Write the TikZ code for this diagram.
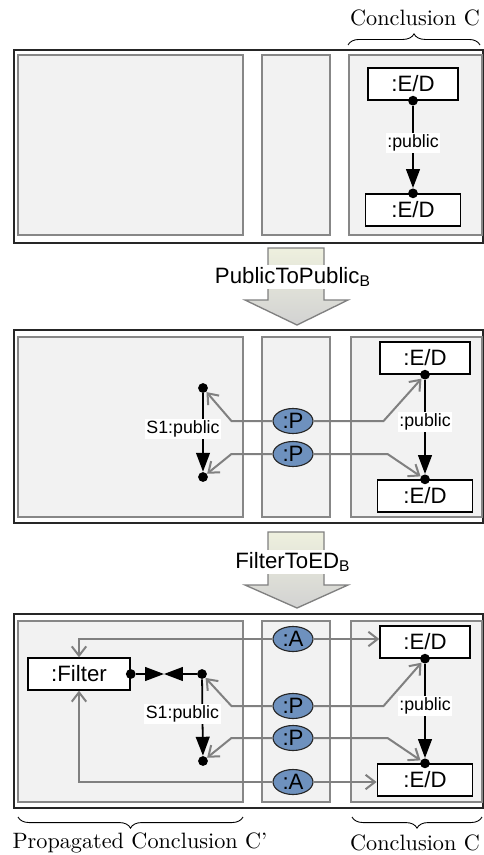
\documentclass[tikz,border=0pt]{standalone}
\usepackage{fontspec}
\newfontfamily\diagfont{Liberation Sans}
\usepackage{tikz}
\usetikzlibrary{arrows.meta,shapes.geometric,decorations.pathreplacing}
\definecolor{panegray}{RGB}{242,242,242}
\definecolor{paneline}{RGB}{135,135,135}
\definecolor{mapblue}{RGB}{110,145,190}
\definecolor{mapgray}{RGB}{128,128,128}
\definecolor{ruletop}{RGB}{238,240,222}
\definecolor{rulebot}{RGB}{210,210,210}

\begin{document}
\begin{tikzpicture}[x=0.45pt,y=-0.45pt,
  gtpanel/.style={draw=black!85,line width=0.6pt,fill=white},
  gtpane/.style={draw=paneline,line width=0.7pt,fill=panegray},
  gtobj/.style={draw,fill=white,line width=0.6pt,font=\diagfont,minimum width=40.5pt,
    minimum height=14.4pt,inner sep=0pt},
  gtmap/.style={ellipse,draw=black!85,fill=mapblue,line width=0.5pt,font=\diagfont,
    minimum width=18pt,minimum height=11.25pt,inner sep=0pt},
  gtdot/.style={circle,fill,inner sep=0pt,minimum size=4.4pt},
  gtedge/.style={-{Triangle[length=8.5pt,width=6.2pt]},line width=0.8pt},
  gtlabel/.style={fill=white,font=\diagfont\footnotesize,inner sep=0.8pt},
  gtmaparr/.style={-{Straight Barb[length=4.2pt,width=6.5pt]},mapgray,line width=0.9pt},
  gtrule/.style={draw=mapgray,line width=0.6pt,top color=ruletop,bottom color=rulebot},
  gtrulename/.style={fill=white,font=\diagfont,inner sep=1pt},
  gtbrace/.style={decorate,decoration={brace,amplitude=5pt},line width=0.4pt}
]
  \useasboundingbox (0,0) rectangle (484,855);
  % Panel 1: conclusion only
  \draw[gtpanel] (14,50) rectangle (483,243);
  \draw[gtpane] (18,55) rectangle (243,235);
  \draw[gtpane] (262,55) rectangle (330,235);
  \draw[gtpane] (349,55) rectangle (482,235);
  \node[gtobj] (ed1a) at (413,84) {:E/D};
  \node[gtobj,minimum width=43pt] (ed1b) at (413,210) {:E/D};
  \node[gtdot] (d1a) at (ed1a.south) {};
  \node[gtdot] (d1b) at (ed1b.north) {};
  \draw[gtedge] (d1a) -- (d1b) node[pos=0.45,gtlabel] {:public};
  \draw[gtbrace] (348,45) -- (480,45);
  \node (conc1) at (415,18) {Conclusion C};
  % Rule 1
  \path[gtrule] (268,248) -- (324,248) -- (324,300) -- (348,300) -- (297,325)
    -- (245,300) -- (268,300) -- cycle;
  \node[gtrulename] (r1) at (293,277) {PublicToPublic\textsubscript{B}};
  % Panel 2: after PublicToPublic
  \draw[gtpanel] (14,330) rectangle (483,523);
  \draw[gtpane] (18,337) rectangle (243,517);
  \draw[gtpane] (262,337) rectangle (330,517);
  \draw[gtpane] (351,337) rectangle (482,517);
  \node[gtobj] (ed2a) at (425,358) {:E/D};
  \node[gtobj,minimum width=43pt] (ed2b) at (425,496) {:E/D};
  \node[gtdot] (d2a) at (ed2a.south) {};
  \node[gtdot] (d2b) at (ed2b.north) {};
  \draw[gtedge] (d2a) -- (d2b) node[pos=0.45,gtlabel] {:public};
  \node[gtdot] (s2a) at (203,388) {};
  \node[gtdot] (s2b) at (203,477) {};
  \draw[gtedge] (s2a) -- (s2b) node[pos=0.45,gtlabel,xshift=-9pt] {S1:public};
  \node[gtmap] (p2a) at (293,421) {:P};
  \node[gtmap] (p2b) at (293,454) {:P};
  \draw[gtmaparr] (p2a.west) -- ++(-41,0) -- (s2a);
  \draw[gtmaparr] (p2a.east) -- ++(70,0) -- (d2a);
  \draw[gtmaparr] (p2b.west) -- ++(-41,0) -- (s2b);
  \draw[gtmaparr] (p2b.east) -- ++(74,0) -- (d2b);
  % Rule 2
  \path[gtrule] (268,532) -- (324,532) -- (324,585) -- (348,585) -- (297,608)
    -- (245,585) -- (268,585) -- cycle;
  \node[gtrulename] (r2) at (293,562) {FilterToED\textsubscript{B}};
  % Panel 3: after FilterToED
  \draw[gtpanel] (14,614) rectangle (483,808);
  \draw[gtpane] (18,621) rectangle (243,802);
  \draw[gtpane] (262,621) rectangle (330,802);
  \draw[gtpane] (351,621) rectangle (482,802);
  \node[gtobj] (ed3a) at (425,642) {:E/D};
  \node[gtobj,minimum width=43pt] (ed3b) at (425,780) {:E/D};
  \node[gtobj,minimum width=46pt] (filter) at (79,674) {:Filter};
  \node[gtdot] (d3a) at (ed3a.south) {};
  \node[gtdot] (d3b) at (ed3b.north) {};
  \draw[gtedge] (d3a) -- (d3b) node[pos=0.45,gtlabel] {:public};
  \node[gtdot] (fdot) at (filter.east) {};
  \node[gtdot] (s3a) at (202,674) {};
  \node[gtdot] (s3b) at (203,761) {};
  \coordinate (fmid) at (164,674);
  \draw[gtedge] (fdot) -- (fmid);
  \draw[gtedge] (s3a) -- (fmid);
  \draw[gtedge] (s3a) -- (s3b) node[pos=0.45,gtlabel,xshift=-9pt] {S1:public};
  \node[gtmap] (a3a) at (293,639) {:A};
  \node[gtmap] (p3a) at (293,706) {:P};
  \node[gtmap] (p3b) at (293,738) {:P};
  \node[gtmap] (a3b) at (293,782) {:A};
  \draw[gtmaparr] (a3a.west) -- (a3a.west -| filter) -- (filter.north);
  \draw[gtmaparr] (a3a.east) -- (a3a.east -| ed3a.west);
  \draw[gtmaparr] (p3a.west) -- ++(-41,0) -- (s3a);
  \draw[gtmaparr] (p3a.east) -- ++(70,0) -- (d3a);
  \draw[gtmaparr] (p3b.west) -- ++(-41,0) -- (s3b);
  \draw[gtmaparr] (p3b.east) -- ++(74,0) -- (d3b);
  \draw[gtmaparr] (a3b.west) -- (a3b.west -| filter) -- (filter.south);
  \draw[gtmaparr] (a3b.east) -- (a3b.east -| ed3b.west);
  % Braces below
  \draw[gtbrace] (243,817) -- (18,817);
  \node (prop) at (140,843) {Propagated Conclusion C'};
  \draw[gtbrace] (482,817) -- (352,817);
  \node (conc2) at (415,843) {Conclusion C};
\end{tikzpicture}
\end{document}
